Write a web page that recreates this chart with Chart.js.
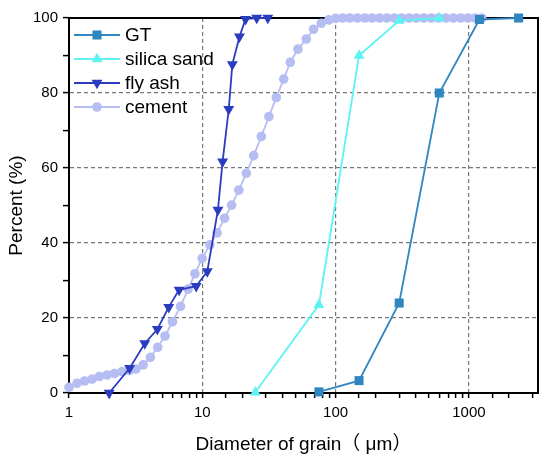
<!DOCTYPE html>
<html>
<head>
<meta charset="utf-8">
<script src="https://cdn.jsdelivr.net/npm/chart.js@4"></script>
<style>
  html, body { margin: 0; padding: 0; background: #fff; }
  #wrap { width: 550px; height: 462px; }
</style>
</head>
<body>
<div id="wrap"><canvas id="myChart" width="550" height="462"></canvas></div>
<script>
// grain sizes (um) and cumulative passing (%)
const gtSize = [75, 150, 300, 600, 1200, 2360];
const gtPass = [0.3, 3.3, 24, 80, 99.6, 100];

const sandSize = [25, 75, 150, 300, 600];
const sandPass = [0.2, 23.5, 90, 99.3, 100];

const ashSize = [2.0, 2.85, 3.7, 4.6, 5.6, 6.7, 9.0, 10.9, 13.1, 14.2, 15.8, 16.8, 19, 21.1, 25.6, 31];
const ashPass = [0, 6.6, 13.2, 17, 22.9, 27.5, 28.5, 32.4, 48.8, 61.7, 75.7, 87.6, 95, 99.7, 100, 100];

const cementSize = [1.0, 1.15, 1.31, 1.49, 1.69, 1.93, 2.19, 2.5, 2.83, 3.18, 3.6, 4.08, 4.63, 5.25,
  5.97, 6.86, 7.83, 8.8, 9.97, 11.4, 12.9, 14.7, 16.6, 18.8, 21.4, 24.3, 27.7, 31.6, 35.9, 40.8,
  45.7, 52.2, 60.3, 68.4, 78.1, 89, 100, 113, 128, 146, 166, 188, 214, 243, 276, 313, 356, 404,
  459, 522, 593, 673, 765, 869, 987, 1120, 1250];
const cementPass = [1.5, 2.6, 3.2, 3.7, 4.4, 4.8, 5.2, 5.7, 6.0, 6.4, 7.5, 9.5, 12.2, 15.2,
  19, 23.1, 27.7, 31.8, 35.9, 39.5, 42.7, 46.6, 50.1, 54.1, 58.6, 63.3, 68.4, 73.7, 78.8, 83.7,
  88.2, 91.7, 94.4, 97, 98.6, 99.5, 99.9, 100, 100, 100, 100, 100, 100, 100, 100, 100, 100, 100,
  100, 100, 100, 100, 100, 100, 100, 100, 100];

const xTickLabels = [1, 10, 100, 1000];
const yTickLabels = [0, 20, 40, 60, 80, 100];

const FONT = "'Liberation Sans', Arial, 'Noto Sans CJK SC', sans-serif";

function pairs(xs, ys) {
  return xs.map((x, i) => ({ x: x, y: ys[i] }));
}

function series(label, xs, ys, color, style, radius, rot, width) {
  return {
    label: label,
    data: pairs(xs, ys),
    borderColor: color,
    backgroundColor: color,
    pointBackgroundColor: color,
    pointBorderColor: color,
    pointBorderWidth: 0,
    pointStyle: style,
    pointRadius: radius,
    pointHoverRadius: radius,
    pointRotation: rot,
    borderWidth: width,
    tension: 0,
    clip: false
  };
}

// frame on top and right side of the plot
const framePlugin = {
  id: 'frame',
  beforeDatasetsDraw(chart) {
    const a = chart.chartArea, ctx = chart.ctx;
    ctx.save();
    ctx.strokeStyle = '#000';
    ctx.lineWidth = 2;
    ctx.beginPath();
    ctx.moveTo(a.left - 1, a.top);
    ctx.lineTo(a.right, a.top);
    ctx.lineTo(a.right, a.bottom + 1);
    ctx.stroke();
    ctx.restore();
  }
};

// origin-style legend: short line with the marker in its middle
const legendPlugin = {
  id: 'lineLegend',
  afterDatasetsDraw(chart) {
    const a = chart.chartArea, ctx = chart.ctx;
    chart.data.datasets.forEach((ds, i) => {
      const y = a.top + 17 + i * 24;
      const x0 = a.left + 5;
      ctx.save();
      ctx.strokeStyle = ds.borderColor;
      ctx.lineWidth = ds.borderWidth;
      ctx.beginPath();
      ctx.moveTo(x0, y);
      ctx.lineTo(x0 + 46, y);
      ctx.stroke();
      ctx.fillStyle = ds.pointBackgroundColor;
      Chart.helpers.drawPoint(ctx, {
        pointStyle: ds.pointStyle,
        radius: ds.pointRadius,
        rotation: ds.pointRotation,
        borderWidth: 0
      }, x0 + 23, y);
      ctx.fillStyle = '#000';
      ctx.font = '19px ' + FONT;
      ctx.textBaseline = 'middle';
      ctx.textAlign = 'left';
      ctx.fillText(ds.label, x0 + 51, y + 1);
      ctx.restore();
    });
  }
};

const gridGray = '#777777';

new Chart(document.getElementById('myChart'), {
  type: 'line',
  data: {
    datasets: [
      series('GT', gtSize, gtPass, '#2f86c0', 'rect', 6.4, 0, 1.8),
      series('silica sand', sandSize, sandPass, '#5ff2f2', 'triangle', 6.3, 0, 1.8),
      series('fly ash', ashSize, ashPass, '#2b3cc0', 'triangle', 6.3, 180, 1.8),
      series('cement', cementSize, cementPass, '#b5bdf3', 'circle', 4.8, 0, 1.8)
    ]
  },
  options: {
    responsive: false,
    animation: false,
    devicePixelRatio: 1,
    layout: { padding: { left: 0, right: 12, top: 18, bottom: 0 } },
    plugins: {
      legend: { display: false },
      tooltip: { enabled: false }
    },
    scales: {
      x: {
        type: 'logarithmic',
        min: 1,
        max: 3300,
        afterBuildTicks(scale) {
          scale.ticks = scale.ticks.filter(t => t.value <= 3000);
        },
        afterFit(scale) { scale.height = 69; },
        grid: {
          color: c => (c.tick && xTickLabels.indexOf(c.tick.value) > 0) ? gridGray : 'rgba(0,0,0,0)',
          lineWidth: 1.2,
          tickColor: '#000',
          tickWidth: 1.5,
          tickLength: 5
        },
        border: { display: true, color: '#000', width: 2, dash: [4, 3] },
        ticks: {
          autoSkip: false,
          maxRotation: 0,
          padding: 6,
          color: '#000',
          font: { family: FONT, size: 15 },
          callback: v => xTickLabels.indexOf(v) >= 0 ? String(v) : ''
        },
        title: {
          display: true,
          text: 'Diameter of grain（ μm）',
          color: '#000',
          font: { family: FONT, size: 19 },
          padding: { top: 0, bottom: 6 }
        }
      },
      y: {
        type: 'linear',
        min: 0,
        max: 100,
        afterFit(scale) { scale.width = 69; },
        grid: {
          color: c => (c.tick && c.tick.value > 0 && c.tick.value < 100 && yTickLabels.indexOf(c.tick.value) >= 0) ? gridGray : 'rgba(0,0,0,0)',
          lineWidth: 1.2,
          tickColor: '#000',
          tickWidth: 1.5,
          tickLength: 6
        },
        border: { display: true, color: '#000', width: 2, dash: [4, 3] },
        ticks: {
          stepSize: 10,
          padding: 5,
          color: '#000',
          font: { family: FONT, size: 15 },
          callback: v => yTickLabels.indexOf(v) >= 0 ? String(v) : ''
        },
        title: {
          display: true,
          text: 'Percent (%)',
          color: '#000',
          font: { family: FONT, size: 19 },
          padding: { top: 5, bottom: 0 }
        }
      }
    }
  },
  plugins: [framePlugin, legendPlugin]
});
</script>
</body>
</html>
